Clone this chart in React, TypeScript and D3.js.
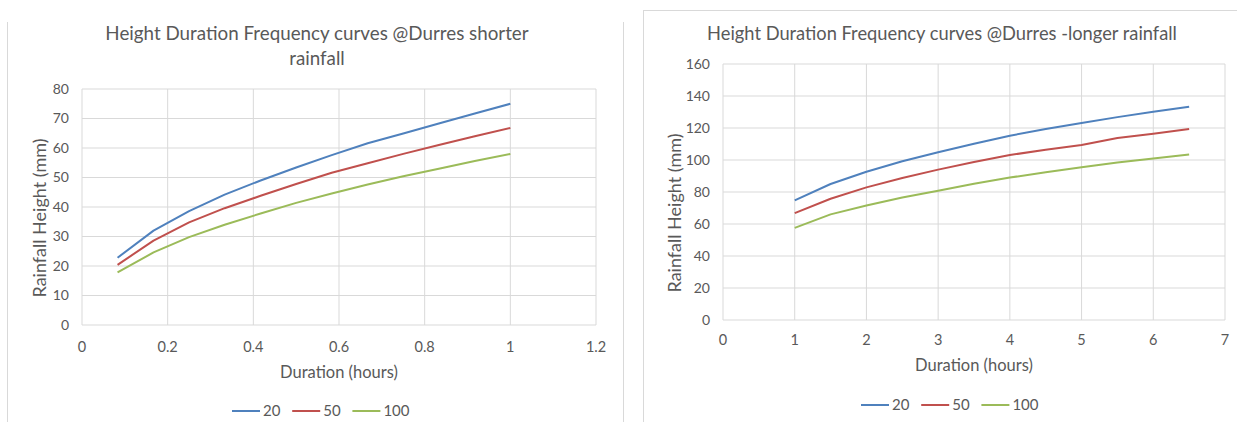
import * as d3 from "d3";

// return periods (years)
const seriesNames = ["20", "50", "100"];
const seriesColors = ["#4f81bd", "#c0504d", "#9bbb59"];

// shorter rainfall: duration in hours
const shortDuration = [0.083, 0.167, 0.25, 0.333, 0.417, 0.5, 0.583, 0.667, 0.75, 0.833, 0.917, 1];
const short20 = [22.8, 32.0, 38.6, 44.2, 49.0, 53.4, 57.6, 61.6, 64.9, 68.3, 71.7, 75.0];
const short50 = [20.4, 28.6, 34.8, 39.6, 43.8, 47.8, 51.6, 54.8, 58.0, 61.0, 64.0, 66.8];
const short100 = [17.8, 24.6, 29.8, 34.0, 37.8, 41.4, 44.6, 47.6, 50.4, 53.0, 55.6, 58.0];

// longer rainfall: duration in hours
const longDuration = [1, 1.5, 2, 2.5, 3, 3.5, 4, 4.5, 5, 5.5, 6, 6.5];
const long20 = [74.8, 85.0, 92.7, 99.2, 104.8, 110.2, 115.2, 119.4, 123.1, 126.8, 130.2, 133.3];
const long50 = [66.8, 75.8, 82.9, 88.8, 94.0, 98.8, 103.1, 106.4, 109.4, 113.8, 116.4, 119.4];
const long100 = [57.6, 66.0, 71.6, 76.6, 80.8, 85.2, 89.0, 92.4, 95.4, 98.4, 101.0, 103.4];

const xTicksShort = [0, 0.2, 0.4, 0.6, 0.8, 1, 1.2];
const yTicksShort = [0, 10, 20, 30, 40, 50, 60, 70, 80];
const xTicksLong = [0, 1, 2, 3, 4, 5, 6, 7];
const yTicksLong = [0, 20, 40, 60, 80, 100, 120, 140, 160];

const FONT = "Lato, 'Liberation Sans', sans-serif";
const TEXT = "#595959";
const GRID = "#d9d9d9";

type ChartProps = {
  titleLines: string[];
  titleX: number;
  titleY: number;
  titleSize: number;
  x: number[];
  ys: number[][];
  xTicks: number[];
  yTicks: number[];
  plot: { l: number; r: number; t: number; b: number };
  xLabelY: number;
  xTitleY: number;
  yTitleX: number;
  yTitleY: number;
  legendX: number;
  legendY: number;
};

const Chart = (p: ChartProps) => {
  const xScale = d3
    .scaleLinear()
    .domain(d3.extent(p.xTicks) as [number, number])
    .range([p.plot.l, p.plot.r]);
  const yScale = d3
    .scaleLinear()
    .domain(d3.extent(p.yTicks) as [number, number])
    .range([p.plot.b, p.plot.t]);
  const line = d3
    .line<[number, number]>()
    .x((d) => xScale(d[0]))
    .y((d) => yScale(d[1]));

  let lx = p.legendX;
  const legendItems = seriesNames.map((name, i) => {
    const x0 = lx;
    lx += 28 + 3 + name.length * 8.6 + 12;
    return { name, color: seriesColors[i], x0 };
  });

  return (
    <g fontFamily={FONT} fill={TEXT}>
      {p.titleLines.map((t, i) => (
        <text key={t} x={p.titleX} y={p.titleY + i * 25} textAnchor="middle" fontSize={p.titleSize}>
          {t}
        </text>
      ))}
      {p.yTicks.map((v) => (
        <g key={"y" + v}>
          <line x1={p.plot.l} x2={p.plot.r} y1={yScale(v)} y2={yScale(v)} stroke={GRID} strokeWidth={1} />
          <text x={p.plot.l - 13} y={yScale(v)} dy="0.35em" textAnchor="end" fontSize={14}>
            {v}
          </text>
        </g>
      ))}
      {p.xTicks.map((v) => (
        <g key={"x" + v}>
          <line x1={xScale(v)} x2={xScale(v)} y1={p.plot.t} y2={p.plot.b} stroke={GRID} strokeWidth={1} />
          <text x={xScale(v)} y={p.xLabelY} dy="0.35em" textAnchor="middle" fontSize={14.5}>
            {d3.format("~g")(v)}
          </text>
        </g>
      ))}
      {p.ys.map((ys, i) => (
        <path
          key={seriesNames[i]}
          d={line(p.x.map((xv, j) => [xv, ys[j]] as [number, number])) ?? ""}
          fill="none"
          stroke={seriesColors[i]}
          strokeWidth={2}
          strokeLinejoin="round"
        />
      ))}
      <text x={(p.plot.l + p.plot.r) / 2} y={p.xTitleY} dy="0.35em" textAnchor="middle" fontSize={16.5}>
        Duration (hours)
      </text>
      <text
        transform={`translate(${p.yTitleX},${p.yTitleY}) rotate(-90)`}
        dy="0.35em"
        textAnchor="middle"
        fontSize={18}
      >
        Rainfall Height (mm)
      </text>
      {legendItems.map((it) => (
        <g key={it.name}>
          <line x1={it.x0} x2={it.x0 + 28} y1={p.legendY} y2={p.legendY} stroke={it.color} strokeWidth={2} />
          <text x={it.x0 + 31} y={p.legendY} dy="0.35em" fontSize={15}>
            {it.name}
          </text>
        </g>
      ))}
    </g>
  );
};

export default function App() {
  return (
    <svg
      width={1237}
      height={422}
      style={{ position: "absolute", left: 0, top: 0, background: "#fff" }}
    >
      {/* chart frames */}
      <line x1={7.5} x2={7.5} y1={22} y2={422} stroke={GRID} />
      <line x1={623.5} x2={623.5} y1={22} y2={422} stroke={GRID} />
      <line x1={643.5} x2={643.5} y1={10} y2={422} stroke={GRID} />
      <line x1={643.5} x2={1237} y1={10.5} y2={10.5} stroke={GRID} />

      <Chart
        titleLines={["Height Duration Frequency curves @Durres shorter", "rainfall"]}
        titleX={317}
        titleY={40}
        titleSize={18.8}
        x={shortDuration}
        ys={[short20, short50, short100]}
        xTicks={xTicksShort}
        yTicks={yTicksShort}
        plot={{ l: 82, r: 596, t: 89, b: 325 }}
        xLabelY={347}
        xTitleY={372}
        yTitleX={40}
        yTitleY={218}
        legendX={232}
        legendY={411}
      />
      <Chart
        titleLines={["Height Duration Frequency curves @Durres -longer rainfall"]}
        titleX={942}
        titleY={40}
        titleSize={18.3}
        x={longDuration}
        ys={[long20, long50, long100]}
        xTicks={xTicksLong}
        yTicks={yTicksLong}
        plot={{ l: 723, r: 1225, t: 64, b: 320 }}
        xLabelY={340}
        xTitleY={365}
        yTitleX={675}
        yTitleY={213}
        legendX={861}
        legendY={405}
      />
    </svg>
  );
}
